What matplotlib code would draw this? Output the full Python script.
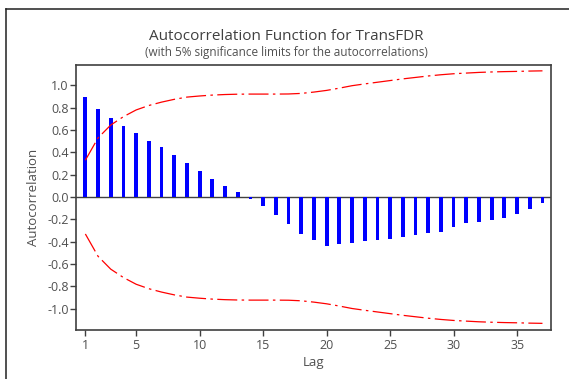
import matplotlib
matplotlib.use("Agg")
import matplotlib.pyplot as plt
from matplotlib.lines import Line2D

lags = list(range(1, 38))
acf = [0.898, 0.790, 0.710, 0.632, 0.573, 0.501, 0.448, 0.376, 0.304, 0.235,
       0.164, 0.101, 0.047, -0.013, -0.084, -0.156, -0.245, -0.331, -0.385, -0.439,
       -0.421, -0.412, -0.394, -0.385, -0.377, -0.360, -0.343, -0.325, -0.310, -0.272,
       -0.236, -0.221, -0.203, -0.185, -0.155, -0.105, -0.054]
upper = [0.33, 0.53, 0.645, 0.72, 0.78, 0.82, 0.85, 0.875, 0.895, 0.905,
         0.913, 0.918, 0.921, 0.922, 0.922, 0.922, 0.923, 0.928, 0.940, 0.955,
         0.975, 0.997, 1.013, 1.028, 1.043, 1.058, 1.071, 1.084, 1.095, 1.104,
         1.110, 1.116, 1.120, 1.123, 1.125, 1.128, 1.130]
lower = [-u for u in upper]
xticks = [1, 5, 10, 15, 20, 25, 30, 35]
yticks = [-1.0, -0.8, -0.6, -0.4, -0.2, 0.0, 0.2, 0.4, 0.6, 0.8, 1.0]

plt.rcParams['font.family'] = ['Open Sans', 'DejaVu Sans']
plt.rcParams['axes.unicode_minus'] = False
txt = '#505050'
spine = '#404040'

fig = plt.figure(figsize=(5.69, 3.79), dpi=100)
ax = fig.add_axes([0.1344, 0.1306, 0.969 - 0.1344, 0.8293 - 0.1306])

ax.bar(lags, acf, width=0.3, color='#0000ff', linewidth=0, zorder=3)
ax.axhline(0, color=spine, lw=1.0, zorder=2)
dash = (16, 3.5, 2, 3.5)
ax.plot(lags, upper, color='#ff0000', lw=0.9, dashes=dash, zorder=4)
ax.plot(lags, lower, color='#ff0000', lw=0.9, dashes=dash, zorder=4)

ax.set_xlim(0.3, 37.7)
ax.set_ylim(-1.185, 1.185)
ax.set_xticks(xticks)
ax.set_yticks(yticks)
ax.set_yticklabels([f"{v:.1f}" for v in yticks])
ax.tick_params(axis='both', direction='out', length=4, width=1, color=spine,
               labelcolor=txt, labelsize=9, pad=1.5)
ax.tick_params(axis='x', pad=3)
for s in ax.spines.values():
    s.set_color(spine)
    s.set_linewidth(1.2)

ax.set_xlabel('Lag', color=txt, fontsize=9.5, labelpad=3)
ax.set_ylabel('Autocorrelation', color=txt, fontsize=9.5, labelpad=5)

fig.text(0.503, 1 - 37 / 379, 'Autocorrelation Function for TransFDR',
         ha='center', va='center', color='#404040', fontsize=11)
fig.text(0.503, 1 - 52.5 / 379, '(with 5% significance limits for the autocorrelations)',
         ha='center', va='center', color=txt, fontsize=8.5)

# outer frame (left and top edges)
fig.add_artist(Line2D([5.5 / 569, 5.5 / 569], [0, 1 - 9 / 379], transform=fig.transFigure,
                      color='#202020', lw=1.1))
fig.add_artist(Line2D([5.5 / 569, 1], [1 - 9 / 379, 1 - 9 / 379], transform=fig.transFigure,
                      color='#202020', lw=1.1))

fig.savefig('out.png', dpi=100)
